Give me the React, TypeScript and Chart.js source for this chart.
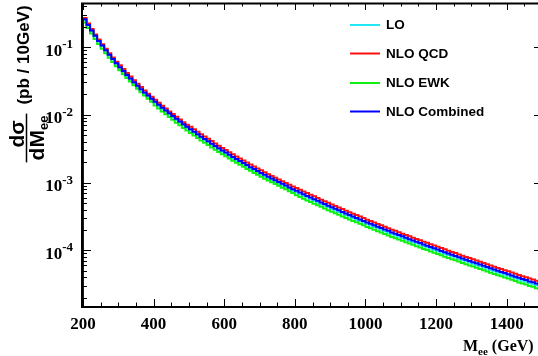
import React, { useEffect, useRef } from "react";
import { Chart, registerables } from "chart.js";

Chart.register(...registerables);

// ---- binning / axes ----
const BIN_LOW = 200;
const BIN_WIDTH = 10;
const X_MIN = 200;
const X_MAX = 1500;
const Y_MIN = 1.51e-5;
const Y_MAX = 0.446;
const X_TICK_LABELS = [200, 400, 600, 800, 1000, 1200, 1400];
const X_MAJOR_STEP = 200;
const X_MINOR_STEP = 50;
const Y_TICK_EXPONENTS = [-1, -2, -3, -4];

// ---- series (pb / 10 GeV), one value per 10 GeV bin from 200 to 1500 GeV ----
const LO = [
  0.251, 0.207, 0.172, 0.143, 0.121, 0.103, 0.0879, 0.0756, 0.0652, 0.0565,
  0.0484, 0.0424, 0.0372, 0.0329, 0.0291, 0.0258, 0.0229, 0.0205, 0.0184, 0.0166,
  0.0150, 0.0135, 0.0122, 0.0111, 0.0101, 0.00919, 0.00836, 0.00764, 0.00699, 0.00640,
  0.00587, 0.00539, 0.00495, 0.00456, 0.00421, 0.00390, 0.00360, 0.00333, 0.00308, 0.00286,
  0.00262, 0.00243, 0.00226, 0.00211, 0.00197, 0.00183, 0.00171, 0.00160, 0.00149, 0.00140,
  0.00131, 0.00123, 0.00115, 0.00109, 0.00102, 9.64e-4, 9.04e-4, 8.52e-4, 8.02e-4, 7.56e-4,
  7.13e-4, 6.74e-4, 6.36e-4, 6.00e-4, 5.68e-4, 5.38e-4, 5.08e-4, 4.81e-4, 4.55e-4, 4.31e-4,
  4.09e-4, 3.87e-4, 3.68e-4, 3.49e-4, 3.31e-4, 3.15e-4, 2.99e-4, 2.84e-4, 2.70e-4, 2.57e-4,
  2.44e-4, 2.32e-4, 2.21e-4, 2.11e-4, 2.01e-4, 1.92e-4, 1.82e-4, 1.74e-4, 1.66e-4, 1.59e-4,
  1.51e-4, 1.45e-4, 1.38e-4, 1.32e-4, 1.27e-4, 1.21e-4, 1.15e-4, 1.11e-4, 1.06e-4, 1.01e-4,
  9.73e-5, 9.28e-5, 8.88e-5, 8.51e-5, 8.16e-5, 7.82e-5, 7.49e-5, 7.17e-5, 6.88e-5, 6.60e-5,
  6.33e-5, 6.08e-5, 5.83e-5, 5.59e-5, 5.37e-5, 5.15e-5, 4.93e-5, 4.73e-5, 4.55e-5, 4.37e-5,
  4.21e-5, 4.04e-5, 3.87e-5, 3.72e-5, 3.57e-5, 3.44e-5, 3.31e-5, 3.18e-5, 3.06e-5, 2.94e-5,
];

const NLO_QCD = [
  0.269, 0.222, 0.184, 0.153, 0.129, 0.110, 0.0942, 0.0810, 0.0698, 0.0606,
  0.0539, 0.0473, 0.0415, 0.0367, 0.0324, 0.0288, 0.0256, 0.0229, 0.0205, 0.0185,
  0.0167, 0.0151, 0.0136, 0.0124, 0.0112, 0.01024, 0.00932, 0.00852, 0.00779, 0.00714,
  0.00666, 0.00611, 0.00562, 0.00518, 0.00479, 0.00443, 0.00409, 0.00378, 0.00350, 0.00325,
  0.00302, 0.00280, 0.00261, 0.00243, 0.00227, 0.00211, 0.00197, 0.00184, 0.00172, 0.00161,
  0.00152, 0.00142, 0.00133, 0.00125, 0.00118, 0.00111, 1.043e-3, 9.83e-4, 9.25e-4, 8.72e-4,
  8.31e-4, 7.84e-4, 7.40e-4, 6.99e-4, 6.61e-4, 6.26e-4, 5.92e-4, 5.60e-4, 5.30e-4, 5.02e-4,
  4.76e-4, 4.51e-4, 4.28e-4, 4.06e-4, 3.85e-4, 3.66e-4, 3.48e-4, 3.31e-4, 3.15e-4, 2.99e-4,
  2.84e-4, 2.71e-4, 2.57e-4, 2.45e-4, 2.34e-4, 2.23e-4, 2.12e-4, 2.02e-4, 1.94e-4, 1.85e-4,
  1.76e-4, 1.68e-4, 1.61e-4, 1.54e-4, 1.47e-4, 1.41e-4, 1.34e-4, 1.29e-4, 1.23e-4, 1.18e-4,
  1.13e-4, 1.08e-4, 1.034e-4, 9.90e-5, 9.49e-5, 9.11e-5, 8.72e-5, 8.35e-5, 8.01e-5, 7.68e-5,
  7.37e-5, 7.07e-5, 6.79e-5, 6.51e-5, 6.25e-5, 6.00e-5, 5.74e-5, 5.51e-5, 5.29e-5, 5.08e-5,
  4.90e-5, 4.70e-5, 4.50e-5, 4.33e-5, 4.16e-5, 4.00e-5, 3.85e-5, 3.71e-5, 3.56e-5, 3.42e-5,
];

const NLO_EWK = [
  0.230, 0.190, 0.158, 0.131, 0.111, 0.0945, 0.0807, 0.0694, 0.0599, 0.0519,
  0.0454, 0.0398, 0.0349, 0.0309, 0.0273, 0.0242, 0.0215, 0.0193, 0.0173, 0.0156,
  0.0137, 0.0124, 0.0112, 0.0102, 0.00924, 0.00842, 0.00766, 0.00700, 0.00641, 0.00587,
  0.00538, 0.00494, 0.00454, 0.00418, 0.00386, 0.00357, 0.00330, 0.00305, 0.00282, 0.00262,
  0.00244, 0.00226, 0.00210, 0.00196, 0.00183, 0.00171, 0.00159, 0.00149, 0.00139, 0.00130,
  0.00122, 0.00114, 0.00107, 0.00101, 9.50e-4, 8.98e-4, 8.42e-4, 7.94e-4, 7.47e-4, 7.04e-4,
  6.49e-4, 6.13e-4, 5.79e-4, 5.46e-4, 5.17e-4, 4.89e-4, 4.63e-4, 4.38e-4, 4.15e-4, 3.92e-4,
  3.72e-4, 3.53e-4, 3.35e-4, 3.17e-4, 3.01e-4, 2.86e-4, 2.72e-4, 2.59e-4, 2.46e-4, 2.34e-4,
  2.22e-4, 2.12e-4, 2.01e-4, 1.92e-4, 1.83e-4, 1.75e-4, 1.66e-4, 1.58e-4, 1.51e-4, 1.44e-4,
  1.38e-4, 1.32e-4, 1.26e-4, 1.21e-4, 1.15e-4, 1.10e-4, 1.05e-4, 1.01e-4, 9.63e-5, 9.20e-5,
  8.86e-5, 8.45e-5, 8.08e-5, 7.74e-5, 7.42e-5, 7.12e-5, 6.82e-5, 6.53e-5, 6.26e-5, 6.00e-5,
  5.76e-5, 5.53e-5, 5.31e-5, 5.09e-5, 4.88e-5, 4.69e-5, 4.49e-5, 4.31e-5, 4.14e-5, 3.97e-5,
  3.83e-5, 3.67e-5, 3.52e-5, 3.36e-5, 3.25e-5, 3.13e-5, 2.99e-5, 2.90e-5, 2.77e-5, 2.67e-5,
];

const NLO_COMBINED = [
  0.256, 0.211, 0.175, 0.146, 0.123, 0.105, 0.0897, 0.0771, 0.0665, 0.0577,
  0.0504, 0.0442, 0.0388, 0.0343, 0.0303, 0.0269, 0.0239, 0.0214, 0.0192, 0.0173,
  0.0156, 0.0141, 0.0127, 0.0116, 0.0105, 0.00957, 0.00871, 0.00796, 0.00728, 0.00667,
  0.00611, 0.00561, 0.00516, 0.00475, 0.00439, 0.00406, 0.00375, 0.00347, 0.00321, 0.00298,
  0.00277, 0.00257, 0.00239, 0.00223, 0.00208, 0.00194, 0.00181, 0.00169, 0.00158, 0.00148,
  0.00139, 0.00130, 0.00122, 0.00115, 0.00108, 0.00102, 9.57e-4, 9.02e-4, 8.49e-4, 8.00e-4,
  7.55e-4, 7.13e-4, 6.73e-4, 6.35e-4, 6.01e-4, 5.69e-4, 5.38e-4, 5.09e-4, 4.82e-4, 4.56e-4,
  4.33e-4, 4.10e-4, 3.89e-4, 3.69e-4, 3.50e-4, 3.33e-4, 3.16e-4, 3.01e-4, 2.86e-4, 2.72e-4,
  2.58e-4, 2.46e-4, 2.34e-4, 2.23e-4, 2.13e-4, 2.03e-4, 1.94e-4, 1.84e-4, 1.76e-4, 1.68e-4,
  1.61e-4, 1.53e-4, 1.46e-4, 1.40e-4, 1.34e-4, 1.28e-4, 1.22e-4, 1.17e-4, 1.12e-4, 1.07e-4,
  1.03e-4, 9.82e-5, 9.40e-5, 9.00e-5, 8.63e-5, 8.28e-5, 7.90e-5, 7.59e-5, 7.28e-5, 6.98e-5,
  6.70e-5, 6.43e-5, 6.17e-5, 5.92e-5, 5.68e-5, 5.45e-5, 5.22e-5, 5.01e-5, 4.81e-5, 4.62e-5,
  4.45e-5, 4.27e-5, 4.09e-5, 3.94e-5, 3.78e-5, 3.64e-5, 3.48e-5, 3.37e-5, 3.24e-5, 3.11e-5,
];

const SERIES_NAMES = ["LO", "NLO QCD", "NLO EWK", "NLO Combined"];
const SERIES_VALUES = [LO, NLO_QCD, NLO_EWK, NLO_COMBINED];
const SERIES_COLORS = ["#22e8f4", "#ff1010", "#10f010", "#0000ff"];
const SERIES_ORDER = [3, 2, 1, 0];

// ---- layout ----
const CANVAS_W = 560;
const CANVAS_H = 356;
const PLOT_LEFT = 83;
const PLOT_RIGHT = 542;
const PLOT_TOP = 3;
const PLOT_BOTTOM = 306;

const SANS = '"Liberation Sans", Arial, Helvetica, sans-serif';
const SERIF = '"Liberation Serif", "Times New Roman", serif';

function histPoints(values: number[]) {
  const pts: { x: number; y: number }[] = [{ x: BIN_LOW, y: Y_MIN }];
  values.forEach((v, i) => pts.push({ x: BIN_LOW + i * BIN_WIDTH, y: v }));
  pts.push({ x: BIN_LOW + values.length * BIN_WIDTH, y: values[values.length - 1] });
  return pts;
}

function drawRotated(
  ctx: CanvasRenderingContext2D,
  text: string,
  px: number,
  py: number,
  font: string,
  align: CanvasTextAlign
) {
  ctx.save();
  ctx.translate(px, py);
  ctx.rotate(-Math.PI / 2);
  ctx.font = font;
  ctx.textAlign = align;
  ctx.textBaseline = "alphabetic";
  ctx.fillText(text, 0, 0);
  ctx.restore();
}

const rootStylePlugin = {
  id: "rootStyle",
  beforeDatasetsDraw(chart: any) {
    const { ctx, chartArea: ca } = chart;
    ctx.save();
    ctx.strokeStyle = "#000";
    ctx.lineWidth = 2;
    ctx.strokeRect(ca.left - 1, ca.top + 0.5, ca.right - ca.left + 1, ca.bottom - ca.top + 0.5);
    ctx.restore();
  },
  afterDatasetsDraw(chart: any) {
    const { ctx, chartArea: ca, scales } = chart;
    const xs = scales.x;
    const ys = scales.y;
    ctx.save();
    ctx.strokeStyle = "#000";
    ctx.lineWidth = 1;
    for (let v = X_MIN; v <= X_MAX; v += X_MINOR_STEP) {
      const x = Math.round(xs.getPixelForValue(v)) + 0.5;
      const len = (v - X_MIN) % X_MAJOR_STEP === 0 ? 7 : 3.5;
      ctx.beginPath();
      ctx.moveTo(x, ca.bottom);
      ctx.lineTo(x, ca.bottom - len);
      ctx.moveTo(x, ca.top);
      ctx.lineTo(x, ca.top + len);
      ctx.stroke();
    }
    const dLo = Math.floor(Math.log10(Y_MIN));
    const dHi = Math.ceil(Math.log10(Y_MAX));
    for (let d = dLo; d <= dHi; d++) {
      for (let m = 1; m <= 9; m++) {
        const v = m * Math.pow(10, d);
        if (v < Y_MIN || v > Y_MAX) continue;
        const y = Math.round(ys.getPixelForValue(v)) + 0.5;
        const len = m === 1 ? 8 : 4;
        ctx.beginPath();
        ctx.moveTo(ca.left, y);
        ctx.lineTo(ca.left + len, y);
        ctx.moveTo(ca.right, y);
        ctx.lineTo(ca.right - len, y);
        ctx.stroke();
      }
    }
    ctx.restore();
  },
  afterDraw(chart: any) {
    const { ctx, scales } = chart;
    const xs = scales.x;
    const ys = scales.y;
    ctx.save();
    ctx.fillStyle = "#000";

    ctx.font = `bold 17px ${SERIF}`;
    ctx.textAlign = "center";
    ctx.textBaseline = "alphabetic";
    X_TICK_LABELS.forEach((v) => {
      ctx.fillText(String(v), xs.getPixelForValue(v), 329);
    });

    Y_TICK_EXPONENTS.forEach((e) => {
      const y = ys.getPixelForValue(Math.pow(10, e));
      const base = "10";
      const sup = String(e);
      ctx.font = `bold 13px ${SERIF}`;
      const wSup = ctx.measureText(sup).width;
      ctx.font = `bold 17px ${SERIF}`;
      const wBase = ctx.measureText(base).width;
      const right = 73;
      ctx.textAlign = "left";
      ctx.fillText(base, right - wSup - wBase, y + 8.5);
      ctx.font = `bold 13px ${SERIF}`;
      ctx.fillText(sup, right - wSup, y + 1);
    });

    ctx.textAlign = "left";
    ctx.font = `bold 16px ${SERIF}`;
    let tx = 463;
    ctx.fillText("M", tx, 351);
    tx += ctx.measureText("M").width;
    ctx.font = `bold 11px ${SERIF}`;
    ctx.fillText("ee", tx, 355);
    tx += ctx.measureText("ee").width;
    ctx.font = `bold 16px ${SERIF}`;
    ctx.fillText(" (GeV)", tx, 351);

    drawRotated(ctx, "(pb / 10GeV)", 29, 55, `bold 17px ${SANS}`, "center");
    drawRotated(ctx, "dσ", 24, 134, `bold 21px ${SANS}`, "center");
    ctx.font = `bold 21px ${SANS}`;
    const wdM = ctx.measureText("dM").width;
    ctx.font = `bold 13px ${SANS}`;
    const wee = ctx.measureText("ee").width;
    const denStart = 138 + (wdM + wee) / 2;
    drawRotated(ctx, "dM", 44, denStart, `bold 21px ${SANS}`, "left");
    drawRotated(ctx, "ee", 48, denStart - wdM, `bold 13px ${SANS}`, "left");
    ctx.strokeStyle = "#000";
    ctx.lineWidth = 1.5;
    ctx.beginPath();
    ctx.moveTo(26.5, denStart + 2);
    ctx.lineTo(26.5, denStart - wdM - wee - 2);
    ctx.stroke();

    const legendRows = [25, 53.5, 83, 111.5];
    ctx.font = `bold 13.5px ${SANS}`;
    ctx.textBaseline = "middle";
    ctx.textAlign = "left";
    SERIES_NAMES.forEach((name, i) => {
      const y = legendRows[i];
      ctx.strokeStyle = SERIES_COLORS[i];
      ctx.lineWidth = 2;
      ctx.beginPath();
      ctx.moveTo(350, y);
      ctx.lineTo(380, y);
      ctx.stroke();
      ctx.fillStyle = "#000";
      ctx.fillText(name, 386, y + 0.5);
    });

    ctx.restore();
  },
};

export default function App() {
  const canvasRef = useRef<HTMLCanvasElement | null>(null);

  useEffect(() => {
    const canvas = canvasRef.current;
    if (!canvas) return;
    const chart = new Chart(canvas, {
      type: "line",
      data: {
        datasets: SERIES_VALUES.map((vals, i) => ({
          label: SERIES_NAMES[i],
          data: histPoints(vals),
          borderColor: SERIES_COLORS[i],
          backgroundColor: SERIES_COLORS[i],
          borderWidth: 2,
          pointRadius: 0,
          stepped: "before" as const,
          fill: false,
          order: SERIES_ORDER[i],
        })),
      },
      options: {
        animation: false,
        responsive: false,
        maintainAspectRatio: false,
        devicePixelRatio: 1,
        layout: {
          padding: {
            left: PLOT_LEFT,
            right: CANVAS_W - PLOT_RIGHT,
            top: PLOT_TOP,
            bottom: CANVAS_H - PLOT_BOTTOM,
          },
        },
        scales: {
          x: { type: "linear", min: X_MIN, max: X_MAX, display: false },
          y: { type: "logarithmic", min: Y_MIN, max: Y_MAX, display: false },
        },
        plugins: {
          legend: { display: false },
          tooltip: { enabled: false },
        },
      },
      plugins: [rootStylePlugin],
    } as any);
    return () => chart.destroy();
  }, []);

  return (
    <div
      style={{
        position: "fixed",
        left: 0,
        top: 0,
        width: 538,
        height: 356,
        overflow: "hidden",
        background: "#fff",
      }}
    >
      <canvas
        ref={canvasRef}
        width={CANVAS_W}
        height={CANVAS_H}
        style={{ display: "block", width: CANVAS_W, height: CANVAS_H }}
      />
    </div>
  );
}
